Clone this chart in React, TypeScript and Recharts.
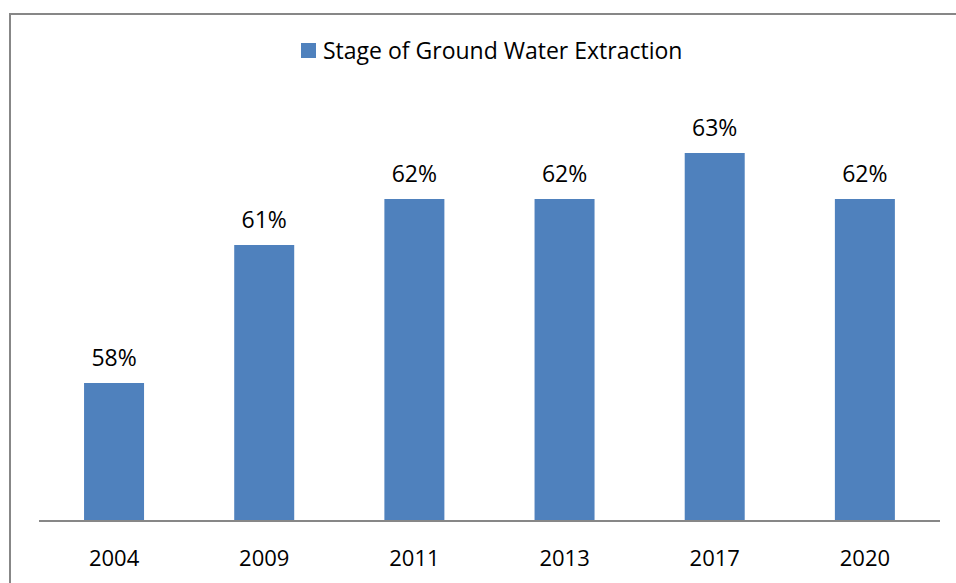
import React from "react";
import { BarChart, Bar, XAxis, YAxis, LabelList } from "recharts";

const years = ["2004", "2009", "2011", "2013", "2017", "2020"];
const extraction = [58, 61, 62, 62, 63, 62];
const seriesName = "Stage of Ground Water Extraction";

const BAR_COLOR = "#4F81BD";
const FONT = "'Open Sans', 'Liberation Sans', sans-serif";

const data = years.map((year, i) => ({ year, value: extraction[i] }));

const App: React.FC = () => {
    return (
        <div
            style={{
                position: "fixed",
                left: 0,
                top: 0,
                width: 956,
                height: 583,
                overflow: "hidden",
                background: "#fff",
                fontFamily: FONT,
            }}
        >
            {/* chart frame, runs off the right and bottom edges */}
            <div
                style={{
                    position: "absolute",
                    left: 9,
                    top: 13,
                    width: 1000,
                    height: 640,
                    border: "2px solid #878787",
                    boxSizing: "border-box",
                }}
            />

            {/* legend */}
            <div
                style={{
                    position: "absolute",
                    left: 301,
                    top: 34,
                    display: "flex",
                    alignItems: "center",
                    fontSize: 23,
                    color: "#000",
                    whiteSpace: "nowrap",
                }}
            >
                <span
                    style={{
                        display: "inline-block",
                        width: 15,
                        height: 15,
                        background: BAR_COLOR,
                        marginRight: 7,
                    }}
                />
                <span>{seriesName}</span>
            </div>

            <div style={{ position: "absolute", left: 0, top: 0 }}>
                <BarChart
                    width={956}
                    height={583}
                    data={data}
                    margin={{ top: 61, right: 16, bottom: 22, left: 39 }}
                    barCategoryGap="30%"
                >
                    <XAxis
                        dataKey="year"
                        height={40}
                        tickLine={false}
                        tickSize={0}
                        tickMargin={29}
                        axisLine={{ stroke: "#878787", strokeWidth: 2 }}
                        tick={{ fontSize: 22, fill: "#000", fontFamily: FONT }}
                    />
                    <YAxis hide domain={[55, 65]} allowDataOverflow />
                    <Bar dataKey="value" name={seriesName} fill={BAR_COLOR} isAnimationActive={false}>
                        <LabelList
                            dataKey="value"
                            position="top"
                            offset={17}
                            formatter={(v: any) => `${v}%`}
                            style={{ fontSize: 23, fill: "#000", fontFamily: FONT }}
                        />
                    </Bar>
                </BarChart>
            </div>
        </div>
    );
};

export default App;
